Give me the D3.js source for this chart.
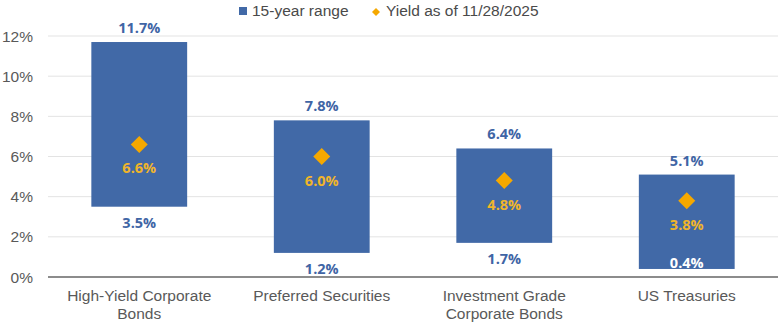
<!DOCTYPE html>
<html><head><meta charset="utf-8">
<script src="https://cdn.jsdelivr.net/npm/d3@7"></script>
<style>body{margin:0;background:#fff}svg{display:block}</style>
</head><body>
<svg id="c" width="780" height="324"></svg>
<script>
const categories = [["High-Yield Corporate","Bonds"],["Preferred Securities"],["Investment Grade","Corporate Bonds"],["US Treasuries"]];
const lowValues = [3.5, 1.2, 1.7, 0.4];
const highValues = [11.7, 7.8, 6.4, 5.1];
const yieldValues = [6.6, 6.0, 4.8, 3.8];
const yTicks = [0, 2, 4, 6, 8, 10, 12];
const legendLabels = ["15-year range", "Yield as of 11/28/2025"];

const svg = d3.select("#c");
const plotL = 48, plotR = 778, plotT = 36, plotB = 277;
const barColor = "#4169a7", diaColor = "#f5a800", blueText = "#3f65a5", goldText = "#f0b52a";
const fontAxis = "'Liberation Sans', Arial, sans-serif";
const fontVal = "'Open Sans', sans-serif";

const x = d3.scaleBand().domain(d3.range(categories.length)).range([plotL, plotR]).paddingInner(0.475).paddingOuter(0.2375);
const y = d3.scaleLinear().domain([0, 12]).range([plotB, plotT]);
const idx = d3.range(categories.length);
const cx = i => x(i) + x.bandwidth() / 2;

// gridlines
svg.append("g").selectAll("line").data(yTicks.filter(d => d > 0)).join("line")
  .attr("x1", plotL).attr("x2", plotR).attr("y1", d => y(d)).attr("y2", d => y(d))
  .attr("stroke", "#e3e3e3").attr("stroke-width", 1);

// y tick labels
svg.append("g").selectAll("text").data(yTicks).join("text")
  .attr("x", 33).attr("y", d => y(d) + 5.5).attr("text-anchor", "end")
  .attr("font-family", fontAxis).attr("font-size", 15.5).attr("fill", "#595959")
  .text(d => d + "%");

// bars
svg.append("g").selectAll("rect").data(idx).join("rect")
  .attr("x", i => x(i)).attr("width", x.bandwidth())
  .attr("y", i => y(highValues[i])).attr("height", i => y(lowValues[i]) - y(highValues[i]))
  .attr("fill", barColor);

// axis line
svg.append("line").attr("x1", plotL).attr("x2", plotR).attr("y1", plotB).attr("y2", plotB)
  .attr("stroke", "#8c8c8c").attr("stroke-width", 2);

// high labels
svg.append("g").selectAll("text").data(idx).join("text")
  .attr("x", cx).attr("y", i => y(highValues[i]) - 9)
  .attr("text-anchor", "middle").attr("font-family", fontVal).attr("font-weight", "bold")
  .attr("font-size", 14.5).attr("fill", blueText)
  .text(i => highValues[i].toFixed(1) + "%");

// low labels (below bar, or inside base when there is no room)
const lowInside = i => y(lowValues[i]) + 21 > plotB + 4;
svg.append("g").selectAll("text").data(idx).join("text")
  .attr("x", cx)
  .attr("y", i => lowInside(i) ? plotB - 9 : y(lowValues[i]) + 21)
  .attr("text-anchor", "middle").attr("font-family", fontVal).attr("font-weight", "bold")
  .attr("font-size", 14.5).attr("fill", i => lowInside(i) ? "#ffffff" : blueText)
  .text(i => lowValues[i].toFixed(1) + "%");

// diamonds
const dh = 8.5;
svg.append("g").selectAll("path").data(idx).join("path")
  .attr("d", i => {
    const px = cx(i), py = y(yieldValues[i]);
    return `M${px},${py - dh}L${px + dh},${py}L${px},${py + dh}L${px - dh},${py}Z`;
  })
  .attr("fill", diaColor);

// yield labels
svg.append("g").selectAll("text").data(idx).join("text")
  .attr("x", cx).attr("y", i => y(yieldValues[i]) + 29)
  .attr("text-anchor", "middle").attr("font-family", fontVal).attr("font-weight", "bold")
  .attr("font-size", 14.5).attr("fill", goldText)
  .text(i => yieldValues[i].toFixed(1) + "%");

// category labels
svg.append("g").selectAll("text").data(idx).join("text")
  .attr("text-anchor", "middle").attr("font-family", fontAxis).attr("font-size", 15.5).attr("fill", "#595959")
  .each(function(i) {
    const t = d3.select(this);
    categories[i].forEach((line, k) => {
      t.append("tspan").attr("x", cx(i)).attr("y", 301 + k * 18).text(line);
    });
  });

// legend
const lg = svg.append("g").attr("font-family", fontAxis).attr("font-size", 15.5).attr("fill", "#4a4a4a");
lg.append("rect").attr("x", 239).attr("y", 7).attr("width", 8).attr("height", 8).attr("fill", barColor);
lg.append("text").attr("x", 252).attr("y", 16).text(legendLabels[0]);
lg.append("path").attr("d", "M376,8L380,12L376,16L372,12Z").attr("fill", diaColor);
lg.append("text").attr("x", 386).attr("y", 16).text(legendLabels[1]);
</script>
</body></html>
